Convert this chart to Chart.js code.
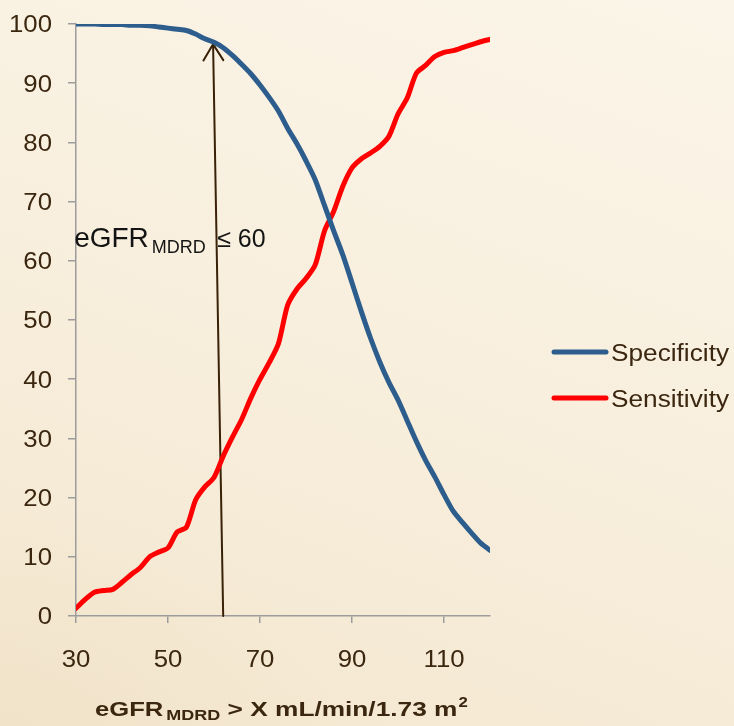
<!DOCTYPE html>
<html>
<head>
<meta charset="utf-8">
<script src="https://cdn.jsdelivr.net/npm/chart.js@4.4.0/dist/chart.umd.min.js"></script>
<style>
html, body { margin: 0; padding: 0; }
body {
    width: 734px; height: 726px; overflow: hidden;
    background:
        radial-gradient(ellipse 340px 220px at 0% 100%, rgba(234, 218, 190, 0.35), rgba(234, 218, 190, 0) 100%),
        linear-gradient(200deg, #fbf5e9 0%, #f8efde 45%, #f4e7cf 100%);
}
canvas { display: block; }
</style>
</head>
<body>
<canvas id="grafico" width="734" height="726"></canvas>
<script>
// eGFR cut-off (x) and curves
const gfrX = [30, 32, 34, 36, 38, 40, 42, 44, 46, 48, 50, 52, 54, 56, 58, 60, 62, 64, 66, 68,
              70, 72, 74, 76, 78, 80, 82, 84, 86, 88, 90, 92, 94, 96, 98, 100, 102, 104, 106, 108,
              110, 112, 114, 116, 118, 120];
const specificity = [100, 100, 100, 99.9, 99.9, 99.9, 99.8, 99.8, 99.7, 99.5, 99.3, 99.1, 98.9, 98.3, 97.5, 96.9, 96.0, 94.7, 93.2, 91.6,
                     89.7, 87.6, 85.3, 82.4, 79.8, 76.9, 73.7, 69.4, 65.1, 61.0, 56.3, 51.5, 47.0, 43.0, 39.5, 36.5, 33.0, 29.5, 26.3, 23.5,
                     20.5, 17.7, 15.8, 14.0, 12.3, 11.1];
const sensitivity = [1.3, 2.8, 4.0, 4.3, 4.5, 5.7, 7.0, 8.2, 10.0, 10.8, 11.5, 14.2, 15.0, 19.6, 21.8, 23.4, 27.0, 30.2, 33.2, 36.8,
                     40.0, 42.8, 46.0, 52.5, 55.2, 57.0, 59.3, 65.0, 68.3, 72.6, 75.7, 77.2, 78.2, 79.3, 81.0, 84.8, 87.5, 91.7, 93.0, 94.5,
                     95.2, 95.5, 96.0, 96.5, 97.0, 97.4];
const xTicks = [30, 50, 70, 90, 110];
const yTicks = [0, 10, 20, 30, 40, 50, 60, 70, 80, 90, 100];

// arrow (from, to) and label anchor, in data units
const arrowFrom = [62, 0];
const arrowTo = [59.8, 96.6];
const labelAt = [29.6, 62.4];

const ctx = document.getElementById('grafico').getContext('2d');

const colorTexto = '#3b2710';
const colorEje = '#9c9c9c';

// draw text stretched horizontally (the original picture is wider than its fonts)
function textoAncho(c, txt, x, y, estira, align) {
    const w = c.measureText(txt).width * estira;
    let x0 = x;
    if (align === 'center') x0 = x - w / 2;
    if (align === 'right') x0 = x - w;
    c.save();
    c.translate(x0, y);
    c.scale(estira, 1);
    c.textAlign = 'left';
    c.fillText(txt, 0, 0);
    c.restore();
    return w;
}

const flechaPlugin = {
    id: 'flecha',
    beforeDatasetsDraw(chart) {
        const c = chart.ctx;
        const xs = chart.scales.x, ys = chart.scales.y;
        const x1 = xs.getPixelForValue(arrowFrom[0]), y1 = ys.getPixelForValue(arrowFrom[1]);
        const x2 = xs.getPixelForValue(arrowTo[0]), y2 = ys.getPixelForValue(arrowTo[1]);
        const ang = Math.atan2(y2 - y1, x2 - x1);
        c.save();
        c.strokeStyle = '#3a2208';
        c.lineWidth = 2;
        c.lineCap = 'round';
        c.beginPath();
        c.moveTo(x1, y1);
        c.lineTo(x2, y2);
        c.moveTo(x2 - 19 * Math.cos(ang - 0.55), y2 - 19 * Math.sin(ang - 0.55));
        c.lineTo(x2, y2);
        c.lineTo(x2 - 19 * Math.cos(ang + 0.55), y2 - 19 * Math.sin(ang + 0.55));
        c.stroke();
        c.restore();
    }
};

const textosPlugin = {
    id: 'textos',
    afterDraw(chart) {
        const c = chart.ctx;
        const xs = chart.scales.x, ys = chart.scales.y;
        c.save();
        c.fillStyle = colorTexto;
        c.textBaseline = 'alphabetic';

        // tick labels
        c.font = '23px "Liberation Sans", Arial, sans-serif';
        ys.ticks.forEach(t => {
            textoAncho(c, String(t.value), chart.chartArea.left - 24, ys.getPixelForValue(t.value) + 8.3, 1.12, 'right');
        });
        xs.ticks.forEach(t => {
            textoAncho(c, String(t.value), xs.getPixelForValue(t.value), chart.chartArea.bottom + 51, 1.12, 'center');
        });

        // axis title with subscript and superscript
        let x = 95;
        const base = 716;
        c.font = 'bold 21px "Liberation Sans", Arial, sans-serif';
        x += textoAncho(c, 'eGFR', x, base, 1.22, 'left') + 3;
        c.font = 'bold 15px "Liberation Sans", Arial, sans-serif';
        x += textoAncho(c, 'MDRD', x, base + 4, 1.2, 'left');
        c.font = 'bold 21px "Liberation Sans", Arial, sans-serif';
        x += textoAncho(c, ' > X mL/min/1.73 m', x, base, 1.25, 'left') + 1;
        c.font = 'bold 14px "Liberation Sans", Arial, sans-serif';
        textoAncho(c, '2', x, base - 9, 1.2, 'left');

        // legend
        chart.data.datasets.forEach((ds, i) => {
            const yl = 352 + i * 46;
            c.strokeStyle = ds.borderColor;
            c.lineWidth = 5;
            c.lineCap = 'round';
            c.beginPath();
            c.moveTo(554, yl);
            c.lineTo(606, yl);
            c.stroke();
            c.fillStyle = colorTexto;
            c.font = '23px "Liberation Sans", Arial, sans-serif';
            textoAncho(c, ds.label, 611, yl + 8.5, 1.14, 'left');
        });

        // arrow label
        const lx = xs.getPixelForValue(labelAt[0]);
        const ly = ys.getPixelForValue(labelAt[1]);
        c.fillStyle = '#141414';
        c.font = '28px "Liberation Sans", Arial, sans-serif';
        c.textAlign = 'left';
        c.fillText('eGFR', lx, ly);
        let lw = c.measureText('eGFR').width;
        c.font = '18px "Liberation Sans", Arial, sans-serif';
        c.fillText('MDRD', lx + lw + 3, ly + 6);
        c.font = '25px "Liberation Sans", Arial, sans-serif';
        c.fillText('\u2264 60', lx + 143, ly);
        c.restore();
    }
};

window.graficaGFR = new Chart(ctx, {
    type: 'line',
    data: {
        datasets: [{
            label: 'Specificity',
            data: gfrX.map((v, i) => ({ x: v, y: specificity[i] })),
            borderColor: '#2d5d8c',
            borderWidth: 5,
            pointRadius: 0,
            tension: 0.25,
            borderCapStyle: 'round',
            borderJoinStyle: 'round'
        }, {
            label: 'Sensitivity',
            data: gfrX.map((v, i) => ({ x: v, y: sensitivity[i] })),
            borderColor: '#ff0000',
            borderWidth: 5,
            pointRadius: 0,
            tension: 0.25,
            borderCapStyle: 'round',
            borderJoinStyle: 'round'
        }]
    },
    options: {
        responsive: false,
        animation: false,
        layout: { padding: { left: 0, top: 24, right: 244, bottom: 0 } },
        plugins: {
            legend: { display: false },
            tooltip: { enabled: false }
        },
        scales: {
            x: {
                type: 'linear',
                min: 30,
                max: 120,
                afterBuildTicks: (s) => { s.ticks = xTicks.map(v => ({ value: v })); },
                afterFit: (s) => { s.height = 110; },
                ticks: { color: 'rgba(0,0,0,0)', font: { size: 22 } },
                grid: { drawOnChartArea: false, drawTicks: true, tickLength: 7, color: colorEje, lineWidth: 1.5 },
                border: { display: true, color: colorEje, width: 1.5 }
            },
            y: {
                min: 0,
                max: 100,
                afterBuildTicks: (s) => { s.ticks = yTicks.map(v => ({ value: v })); },
                afterFit: (s) => { s.width = 76; },
                ticks: { color: 'rgba(0,0,0,0)', font: { size: 22 } },
                grid: { drawOnChartArea: false, drawTicks: true, tickLength: 8, color: colorEje, lineWidth: 1.5 },
                border: { display: true, color: colorEje, width: 1.5 }
            }
        }
    },
    plugins: [flechaPlugin, textosPlugin]
});
</script>
</body>
</html>
